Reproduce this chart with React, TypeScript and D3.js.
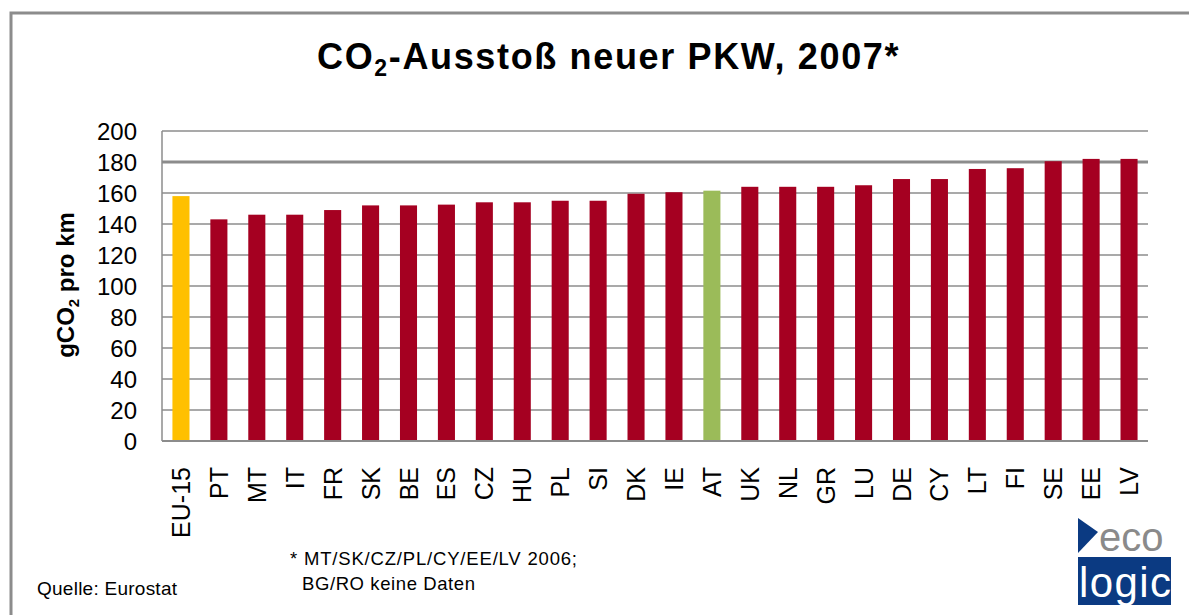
import React from "react";
import { scaleBand, scaleLinear } from "d3";

// data
const countries = ["EU-15", "PT", "MT", "IT", "FR", "SK", "BE", "ES", "CZ", "HU", "PL", "SI", "DK", "IE", "AT", "UK", "NL", "GR", "LU", "DE", "CY", "LT", "FI", "SE", "EE", "LV"];
const emissions = [158, 143, 146, 146, 149, 152, 152, 152.5, 154, 154, 155, 155, 159.5, 160.5, 161.5, 164, 164, 164, 165, 169, 169, 175.5, 176, 180.5, 182, 182];
const yTicks = [0, 20, 40, 60, 80, 100, 120, 140, 160, 180, 200];
const highlight: Record<string, string> = { "EU-15": "#FFC000", AT: "#9BBB59" };
const footnote = ["* MT/SK/CZ/PL/CY/EE/LV 2006;", "BG/RO keine Daten"];
const source = "Quelle: Eurostat";

const W = 1189;
const H = 615;
const plot = { left: 162, right: 1148, top: 131, bottom: 441 };
const font = "'Liberation Sans', Arial, sans-serif";

const App = () => {
  const x = scaleBand<string>()
    .domain(countries)
    .range([plot.left, plot.right])
    .paddingInner(0.55)
    .paddingOuter(0.275);

  const y = scaleLinear().domain([0, 200]).range([plot.bottom, plot.top]);

  return (
    <svg width={W} height={H} style={{ position: "absolute", left: 0, top: 0, background: "#fff" }} fontFamily={font}>
      {/* frame */}
      <path d={`M11,${H} L11,13 L${W},13`} fill="none" stroke="#8c8c8c" strokeWidth={3} />

      {/* title */}
      <text x={317} y={69} fontSize={36} fontWeight="bold" fill="#000" letterSpacing={1.65}>
        CO<tspan fontSize={23} dy={7}>2</tspan><tspan dy={-7}>-Ausstoß neuer PKW, 2007*</tspan>
      </text>

      {/* grid */}
      {yTicks.map((t) => (
        <line
          key={t}
          x1={plot.left}
          x2={plot.right}
          y1={y(t)}
          y2={y(t)}
          stroke="#8c8c8c"
          strokeWidth={t === 180 ? 3 : 1.5}
        />
      ))}
      <line x1={plot.left} x2={plot.left} y1={plot.top} y2={plot.bottom} stroke="#8c8c8c" strokeWidth={1.5} />

      {/* y tick labels */}
      {yTicks.map((t) => (
        <text key={t} x={137} y={y(t) + 8.5} textAnchor="end" fontSize={24} fill="#000">
          {t}
        </text>
      ))}

      {/* y title */}
      <text transform="translate(74,285) rotate(-90)" textAnchor="middle" fontSize={24} fontWeight="bold" fill="#000">
        gCO<tspan fontSize={15} dy={5}>2</tspan><tspan dy={-5}> pro km</tspan>
      </text>

      {/* bars */}
      {countries.map((c, i) => (
        <rect
          key={c}
          x={x(c)}
          y={y(emissions[i])}
          width={x.bandwidth()}
          height={y(0) - y(emissions[i])}
          fill={highlight[c] || "#A50021"}
        />
      ))}
      <line x1={plot.left} x2={plot.right} y1={plot.bottom} y2={plot.bottom} stroke="#8c8c8c" strokeWidth={2} />

      {/* x labels */}
      {countries.map((c) => {
        const cx = (x(c) as number) + x.bandwidth() / 2;
        return (
          <text
            key={c}
            transform={`translate(${cx + 9},467) rotate(-90)`}
            textAnchor="end"
            fontSize={25}
            fill="#000"
          >
            {c}
          </text>
        );
      })}

      {/* footnote + source */}
      <text x={290} y={565} fontSize={18.5} fill="#000" textLength={287} lengthAdjust="spacing">{footnote[0]}</text>
      <text x={302} y={590} fontSize={18.5} fill="#000" textLength={173} lengthAdjust="spacing">{footnote[1]}</text>
      <text x={37} y={595} fontSize={19} fill="#000" textLength={140} lengthAdjust="spacing">{source}</text>

      {/* logo */}
      <g>
        <path d="M1078,518 L1098,532 L1078,553 Z" fill="#0b3a82" />
        <text x={1099} y={551} fontSize={40} fill="#8a8a8a">eco</text>
        <rect x={1078} y={557} width={93} height={48} fill="#0b3a82" />
        <text x={1079} y={597} fontSize={42} fill="#fff" textLength={92}>logic</text>
      </g>
    </svg>
  );
};

export default App;
